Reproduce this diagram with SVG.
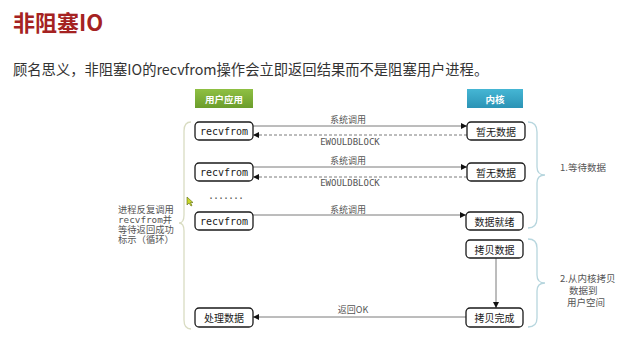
<svg xmlns="http://www.w3.org/2000/svg" width="638" height="345" viewBox="0 0 638 345">
  <style>
    .cjk { font-family: "Noto Sans CJK SC", "Noto Sans", sans-serif; }
    .mono { font-family: "DejaVu Sans Mono", "Liberation Mono", "Noto Sans CJK SC", monospace; }
    .box { fill: #ffffff; stroke: #1a1a1a; stroke-width: 1.3; }
    .boxtxt { font-size: 10px; fill: #1a1a1a; text-anchor: middle; dominant-baseline: central; }
    .lbl { font-size: 9px; fill: #555555; text-anchor: middle; dominant-baseline: central; }
    .line { stroke: #7a7a7a; stroke-width: 1; fill: none; }
    .dash { stroke-dasharray: 3 2; }
    .side { font-size: 9.5px; fill: #555555; dominant-baseline: central; }
    .note { font-size: 9.3px; fill: #555555; dominant-baseline: central; }
    .btntxt { font-size: 9.5px; fill: #ffffff; text-anchor: middle; dominant-baseline: central; font-weight: bold; }
  </style>
  <defs>
    <linearGradient id="gGreen" x1="0" y1="0" x2="0" y2="1">
      <stop offset="0" stop-color="#8fc043"/>
      <stop offset="1" stop-color="#6b9d2c"/>
    </linearGradient>
    <linearGradient id="gBlue" x1="0" y1="0" x2="0" y2="1">
      <stop offset="0" stop-color="#45b6d4"/>
      <stop offset="1" stop-color="#2b93b5"/>
    </linearGradient>
    <marker id="arr" viewBox="0 0 10 10" refX="10" refY="5" markerWidth="6" markerHeight="6" orient="auto" markerUnits="userSpaceOnUse">
      <path d="M0,0 L10,5 L0,10 Z" fill="#111111"/>
    </marker>
  </defs>

  <rect width="638" height="345" fill="#ffffff"/>

  <!-- heading -->
  <text x="13" y="31" class="cjk" font-size="22" font-weight="bold" fill="#a52222">非阻塞IO</text>
  <text x="13" y="75" class="cjk" font-size="14.3" fill="#333333">顾名思义，非阻塞IO的recvfrom操作会立即返回结果而不是阻塞用户进程。</text>

  <!-- column headers -->
  <g id="hdr-user">
    <rect x="195" y="89" width="58" height="19" fill="url(#gGreen)"/>
    <text x="224" y="98.5" class="cjk btntxt">用户应用</text>
  </g>
  <g id="hdr-kernel">
    <rect x="467" y="89" width="56" height="19" fill="url(#gBlue)"/>
    <text x="495" y="98.5" class="cjk btntxt">内核</text>
  </g>

  <!-- braces -->
  <g id="braces" fill="none" stroke-width="1.3">
    <path d="M191,122 Q184,122 184,131 L184,215 Q184,223 179,223 Q184,223 184,231 L184,320 Q184,329 191,329" stroke="#d9dcc2"/>
    <path d="M528,122 Q537,122 537,132 L537,167 Q537,175 545,175 Q537,175 537,183 L537,218 Q537,228 528,228" stroke="#b7d6de"/>
    <path d="M528,239 Q537,239 537,248 L537,275 Q537,283 545,283 Q537,283 537,291 L537,318 Q537,327 528,327" stroke="#b7d6de"/>
  </g>

  <!-- connectors -->
  <g id="connectors">
    <line x1="253" y1="126" x2="467" y2="126" class="line" marker-end="url(#arr)"/>
    <line x1="467" y1="135" x2="253" y2="135" class="line dash" marker-end="url(#arr)"/>
    <line x1="253" y1="167" x2="467" y2="167" class="line" marker-end="url(#arr)"/>
    <line x1="467" y1="177" x2="253" y2="177" class="line dash" marker-end="url(#arr)"/>
    <line x1="253" y1="215" x2="466" y2="215" class="line" marker-end="url(#arr)"/>
    <line x1="496" y1="258" x2="496" y2="308" class="line" marker-end="url(#arr)"/>
    <line x1="466" y1="317" x2="253" y2="317" class="line" marker-end="url(#arr)"/>
    <text x="348" y="119" class="cjk lbl">系统调用</text>
    <text x="350" y="141.5" class="mono lbl">EWOULDBLOCK</text>
    <text x="348" y="160.5" class="cjk lbl">系统调用</text>
    <text x="350" y="182.5" class="mono lbl">EWOULDBLOCK</text>
    <text x="348" y="209" class="cjk lbl">系统调用</text>
    <text x="353" y="309" class="cjk lbl">返回OK</text>
  </g>

  <!-- user-side nodes -->
  <g id="u-recv1">
    <rect x="195" y="122" width="58" height="18" rx="4" class="box"/>
    <text x="224" y="131" class="mono boxtxt">recvfrom</text>
  </g>
  <g id="u-recv2">
    <rect x="195" y="163" width="58" height="18" rx="4" class="box"/>
    <text x="224" y="172" class="mono boxtxt">recvfrom</text>
  </g>
  <g id="u-dots">
    <text x="208" y="195" class="mono" font-size="10" fill="#555555" dominant-baseline="central" letter-spacing="-1">.......</text>
  </g>
  <g id="u-recv3">
    <rect x="195" y="212" width="58" height="18" rx="4" class="box"/>
    <text x="224" y="221" class="mono boxtxt">recvfrom</text>
  </g>
  <g id="u-process">
    <rect x="195" y="308" width="58" height="19" rx="4" class="box"/>
    <text x="224" y="317.5" class="cjk boxtxt">处理数据</text>
  </g>

  <!-- kernel-side nodes -->
  <g id="k-nodata1">
    <rect x="467" y="122" width="58" height="18" rx="4" class="box"/>
    <text x="496" y="131" class="cjk boxtxt">暂无数据</text>
  </g>
  <g id="k-nodata2">
    <rect x="467" y="163" width="58" height="18" rx="4" class="box"/>
    <text x="496" y="172" class="cjk boxtxt">暂无数据</text>
  </g>
  <g id="k-ready">
    <rect x="466" y="212" width="57" height="18" rx="4" class="box"/>
    <text x="494.5" y="221" class="cjk boxtxt">数据就绪</text>
  </g>
  <g id="k-copy">
    <rect x="466" y="240" width="57" height="18" rx="4" class="box"/>
    <text x="494.5" y="249" class="cjk boxtxt">拷贝数据</text>
  </g>
  <g id="k-done">
    <rect x="466" y="308" width="57" height="19" rx="4" class="box"/>
    <text x="494.5" y="317.5" class="cjk boxtxt">拷贝完成</text>
  </g>

  <!-- side notes (multi-line blocks) -->
  <g id="note-left">
    <text class="note cjk" x="118" y="209">进程反复调用<tspan x="118" dy="10"><tspan class="mono">recvfrom</tspan>并</tspan><tspan x="118" dy="10">等待返回成功</tspan><tspan x="118" dy="10">标示（循环）</tspan></text>
  </g>
  <g id="note-right">
    <text class="side cjk" x="560" y="167">1.等待数据</text>
    <text class="side cjk" x="560" y="278">2.从内核拷贝<tspan x="569" dy="12">数据到</tspan><tspan x="567" dy="12">用户空间</tspan></text>
  </g>

  <!-- mouse pointer -->
  <path d="M187,197 L187,205 L189,203 L191,206 L192,205.5 L190.5,202.5 L193,202.5 Z" fill="#c9d82a" stroke="#5a6a10" stroke-width="0.6"/>
</svg>
